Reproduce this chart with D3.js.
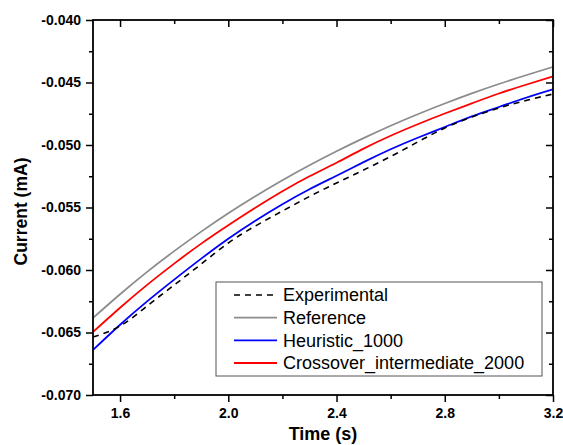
<!DOCTYPE html>
<html>
<head>
<meta charset="utf-8">
<script src="https://cdn.jsdelivr.net/npm/d3@7"></script>
<style>
  body { margin: 0; background: #fff; }
  svg { display: block; font-family: Arial, "Liberation Sans", sans-serif; }
</style>
</head>
<body>
<svg id="chart"></svg>
<script>
const width = 563;
const height = 445;
const margin = { left: 93, right: 10, top: 20, bottom: 50 };

// time (s)
const time = [1.5, 1.6, 1.7, 1.8, 1.9, 2.0, 2.1, 2.2, 2.3, 2.4, 2.5, 2.6, 2.7, 2.8, 2.9, 3.0, 3.1, 3.2];

// current (mA)
const experimental = [-0.06536, -0.06448, -0.06288, -0.06120, -0.05952, -0.05784, -0.05648, -0.05528, -0.05412,
  -0.05304, -0.05200, -0.05092, -0.04976, -0.04864, -0.04776, -0.04704, -0.04644, -0.04592];
const reference = [-0.06384, -0.06194, -0.06015, -0.05849, -0.05693, -0.05546, -0.05410, -0.05282, -0.05162,
  -0.05050, -0.04945, -0.04846, -0.04754, -0.04668, -0.04587, -0.04512, -0.04442, -0.04375];
const heuristic = [-0.06640, -0.06438, -0.06251, -0.06077, -0.05909, -0.05750, -0.05606, -0.05474, -0.05354,
  -0.05246, -0.05137, -0.05034, -0.04942, -0.04856, -0.04771, -0.04696, -0.04622, -0.04555];
const crossover = [-0.06496, -0.06302, -0.06119, -0.05949, -0.05789, -0.05642, -0.05502, -0.05370, -0.05250,
  -0.05142, -0.05029, -0.04926, -0.04834, -0.04748, -0.04667, -0.04588, -0.04518, -0.04451];

const seriesNames = ["Experimental", "Reference", "Heuristic_1000", "Crossover_intermediate_2000"];
const seriesValues = [experimental, reference, heuristic, crossover];
const seriesColors = ["#000000", "#8c8c8c", "#0000ff", "#ff0000"];

const xTicks = [1.6, 2.0, 2.4, 2.8, 3.2];
const xMinor = [1.8, 2.2, 2.6, 3.0];
const yTicks = [-0.070, -0.065, -0.060, -0.055, -0.050, -0.045, -0.040];
const yMinor = [-0.0675, -0.0625, -0.0575, -0.0525, -0.0475, -0.0425];

const svg = d3.select("#chart").attr("width", width).attr("height", height);

const x = d3.scaleLinear().domain([1.5, 3.2]).range([margin.left, width - margin.right]);
const y = d3.scaleLinear().domain([-0.070, -0.040]).range([height - margin.bottom, margin.top]);

const fmt = d3.formatLocale({ decimal: ".", thousands: ",", grouping: [3], currency: ["", ""], minus: "-" });
const yFmt = fmt.format(".3f");
const xFmt = fmt.format(".1f");

svg.append("clipPath").attr("id", "plot-clip")
   .append("rect")
   .attr("x", x(1.5)).attr("y", y(-0.040))
   .attr("width", x(3.2) - x(1.5)).attr("height", y(-0.070) - y(-0.040));

const fontStyle = g => g.selectAll("text")
   .attr("font-family", "Arial, 'Liberation Sans', sans-serif")
   .attr("font-size", 14)
   .attr("font-weight", "bold")
   .attr("fill", "#000");

const strip = g => { g.select(".domain").remove(); g.selectAll("line").attr("stroke", "#000").attr("stroke-width", 1.5); };

// bottom
svg.append("g").attr("transform", `translate(0,${y(-0.070)})`)
   .call(d3.axisBottom(x).tickValues(xTicks).tickFormat(xFmt).tickSize(7).tickPadding(6))
   .call(strip).call(fontStyle);
svg.append("g").attr("transform", `translate(0,${y(-0.070)})`)
   .call(d3.axisBottom(x).tickValues(xMinor).tickFormat("").tickSize(4))
   .call(strip);
// top (inward)
svg.append("g").attr("transform", `translate(0,${y(-0.040)})`)
   .call(d3.axisTop(x).tickValues(xTicks).tickFormat("").tickSize(-7))
   .call(strip);
svg.append("g").attr("transform", `translate(0,${y(-0.040)})`)
   .call(d3.axisTop(x).tickValues(xMinor).tickFormat("").tickSize(-4))
   .call(strip);
// left
svg.append("g").attr("transform", `translate(${x(1.5)},0)`)
   .call(d3.axisLeft(y).tickValues(yTicks).tickFormat(yFmt).tickSize(7).tickPadding(5))
   .call(strip).call(fontStyle);
svg.append("g").attr("transform", `translate(${x(1.5)},0)`)
   .call(d3.axisLeft(y).tickValues(yMinor).tickFormat("").tickSize(4))
   .call(strip);
// right (inward)
svg.append("g").attr("transform", `translate(${x(3.2)},0)`)
   .call(d3.axisRight(y).tickValues(yTicks).tickFormat("").tickSize(-7))
   .call(strip);
svg.append("g").attr("transform", `translate(${x(3.2)},0)`)
   .call(d3.axisRight(y).tickValues(yMinor).tickFormat("").tickSize(-4))
   .call(strip);

// curves
const line = d3.line()
   .x((d, i) => x(time[i]))
   .y(d => y(d))
   .curve(d3.curveNatural);

const plot = svg.append("g").attr("clip-path", "url(#plot-clip)");
[1, 3, 2, 0].forEach(k => {
  plot.append("path")
      .datum(seriesValues[k])
      .attr("d", line)
      .attr("fill", "none")
      .attr("stroke", seriesColors[k])
      .attr("stroke-width", k === 0 ? 1.6 : 1.8)
      .attr("stroke-dasharray", k === 0 ? "6,5" : null);
});

// frame
svg.append("rect")
   .attr("x", x(1.5)).attr("y", y(-0.040))
   .attr("width", x(3.2) - x(1.5)).attr("height", y(-0.070) - y(-0.040))
   .attr("fill", "none").attr("stroke", "#000").attr("stroke-width", 1.8);

// axis titles
svg.append("text")
   .attr("x", (x(1.5) + x(3.2)) / 2).attr("y", 440)
   .attr("text-anchor", "middle")
   .attr("font-size", 18).attr("font-weight", "bold")
   .text("Time (s)");

svg.append("text")
   .attr("transform", `translate(27,${(y(-0.070) + y(-0.040)) / 2 + 4}) rotate(-90)`)
   .attr("text-anchor", "middle")
   .attr("font-size", 17.5).attr("font-weight", "bold")
   .text("Current (mA)");

// legend
const legend = svg.append("g").attr("transform", "translate(216,282)");
legend.append("rect")
   .attr("width", 326).attr("height", 94)
   .attr("fill", "#fff").attr("stroke", "#555").attr("stroke-width", 1);

const rowY = d3.scalePoint().domain(seriesNames).range([13, 81]);
seriesNames.forEach((name, k) => {
  legend.append("line")
     .attr("x1", 18).attr("x2", 61)
     .attr("y1", rowY(name)).attr("y2", rowY(name))
     .attr("stroke", seriesColors[k])
     .attr("stroke-width", k === 0 ? 1.6 : 1.8)
     .attr("stroke-dasharray", k === 0 ? "6,5" : null);
  legend.append("text")
     .attr("x", 67).attr("y", rowY(name))
     .attr("dy", "0.35em")
     .attr("font-size", 18)
     .text(name);
});
</script>
</body>
</html>
